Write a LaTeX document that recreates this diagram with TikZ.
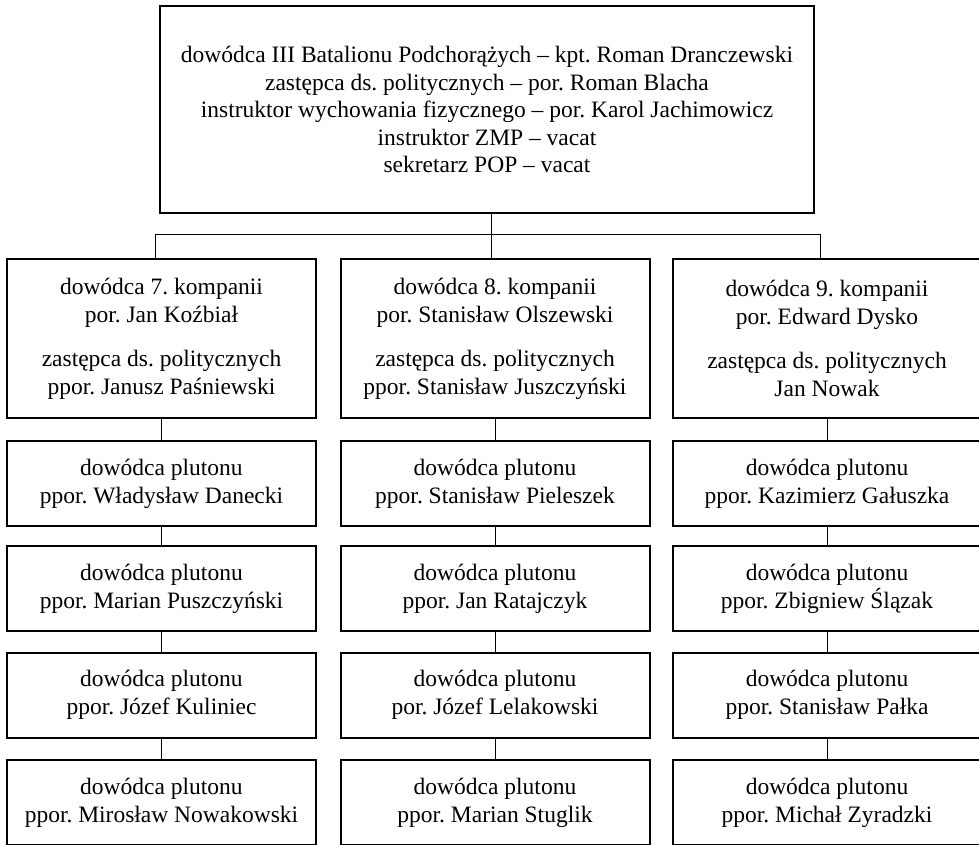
\documentclass[tikz,border=0pt]{standalone}
\usepackage{fontspec}
\setmainfont{Liberation Serif}
\usetikzlibrary{calc}
\begin{document}
\frenchspacing
\begin{tikzpicture}[x=1pt,y=-1pt,
  box/.style={draw, rectangle, line width=2pt, align=center, inner sep=0pt,
    font=\fontsize{23.5}{28}\selectfont\frenchspacing},
  unit/.style={box, minimum width=309pt},
  company/.style={unit, minimum height=159pt},
  platoon/.style={unit, minimum height=85pt},
  link/.style={line width=1pt}]
\clip (0,0) rectangle (979,844);
\fill[white] (0,0) rectangle (979,844);

% battalion command
\node[box, line width=2.3pt, minimum width=654pt, minimum height=207pt,
      font=\fontsize{23.5}{27.5}\selectfont\frenchspacing] (hq) at (487,109.5)
  {dowódca III Batalionu Podchorążych – kpt. Roman Dranczewski\\
   zastępca ds. politycznych – por. Roman Blacha\\
   instruktor wychowania fizycznego – por. Karol Jachimowicz\\
   instruktor ZMP – vacat\\
   sekretarz POP – vacat};

% company commands
\node[company] (c7) at (161.5,338.5)
  {dowódca 7. kompanii\\ por. Jan Koźbiał\\[16pt]
   zastępca ds. politycznych\\ ppor. Janusz Paśniewski};
\node[company] (c8) at (495,338.5)
  {dowódca 8. kompanii\\ por. Stanisław Olszewski\\[16pt]
   zastępca ds. politycznych\\ ppor. Stanisław Juszczyński};
\node[company] (c9) at (827,338.5)
  {dowódca 9. kompanii\\ por. Edward Dysko\\[16pt]
   zastępca ds. politycznych\\ Jan Nowak};

% platoons, 7th company
\node[platoon] (p71) at (161.5,483.5) {dowódca plutonu\\ ppor. Władysław Danecki};
\node[platoon] (p72) at (161.5,588.5) {dowódca plutonu\\ ppor. Marian Puszczyński};
\node[platoon] (p73) at (161.5,695)   {dowódca plutonu\\ ppor. Józef Kuliniec};
\node[platoon] (p74) at (161.5,802.5) {dowódca plutonu\\ ppor. Mirosław Nowakowski};

% platoons, 8th company
\node[platoon] (p81) at (495,483.5) {dowódca plutonu\\ ppor. Stanisław Pieleszek};
\node[platoon] (p82) at (495,588.5) {dowódca plutonu\\ ppor. Jan Ratajczyk};
\node[platoon] (p83) at (495,695)   {dowódca plutonu\\ por. Józef Lelakowski};
\node[platoon] (p84) at (495,802.5) {dowódca plutonu\\ ppor. Marian Stuglik};

% platoons, 9th company
\node[platoon] (p91) at (827,483.5) {dowódca plutonu\\ ppor. Kazimierz Gałuszka};
\node[platoon] (p92) at (827,588.5) {dowódca plutonu\\ ppor. Zbigniew Ślązak};
\node[platoon] (p93) at (827,695)   {dowódca plutonu\\ ppor. Stanisław Pałka};
\node[platoon] (p94) at (827,802.5) {dowódca plutonu\\ ppor. Michał Zyradzki};

% bus from the battalion to the companies
\draw[link] ($(hq.south)+(4,0)$) -- ($(c8.north)+(-4,0)$);
\draw[link] ($(c7.north)+(-6.5,0)$) -- ++(0,-24) -| ($(c9.north)+(-7,0)$);

% chains of platoons
\foreach \c in {7,8,9}{
  \draw[link] (c\c.south) -- (p\c1.north);
  \draw[link] (p\c1.south) -- (p\c2.north);
  \draw[link] (p\c2.south) -- (p\c3.north);
  \draw[link] (p\c3.south) -- (p\c4.north);
}
\end{tikzpicture}
\end{document}
